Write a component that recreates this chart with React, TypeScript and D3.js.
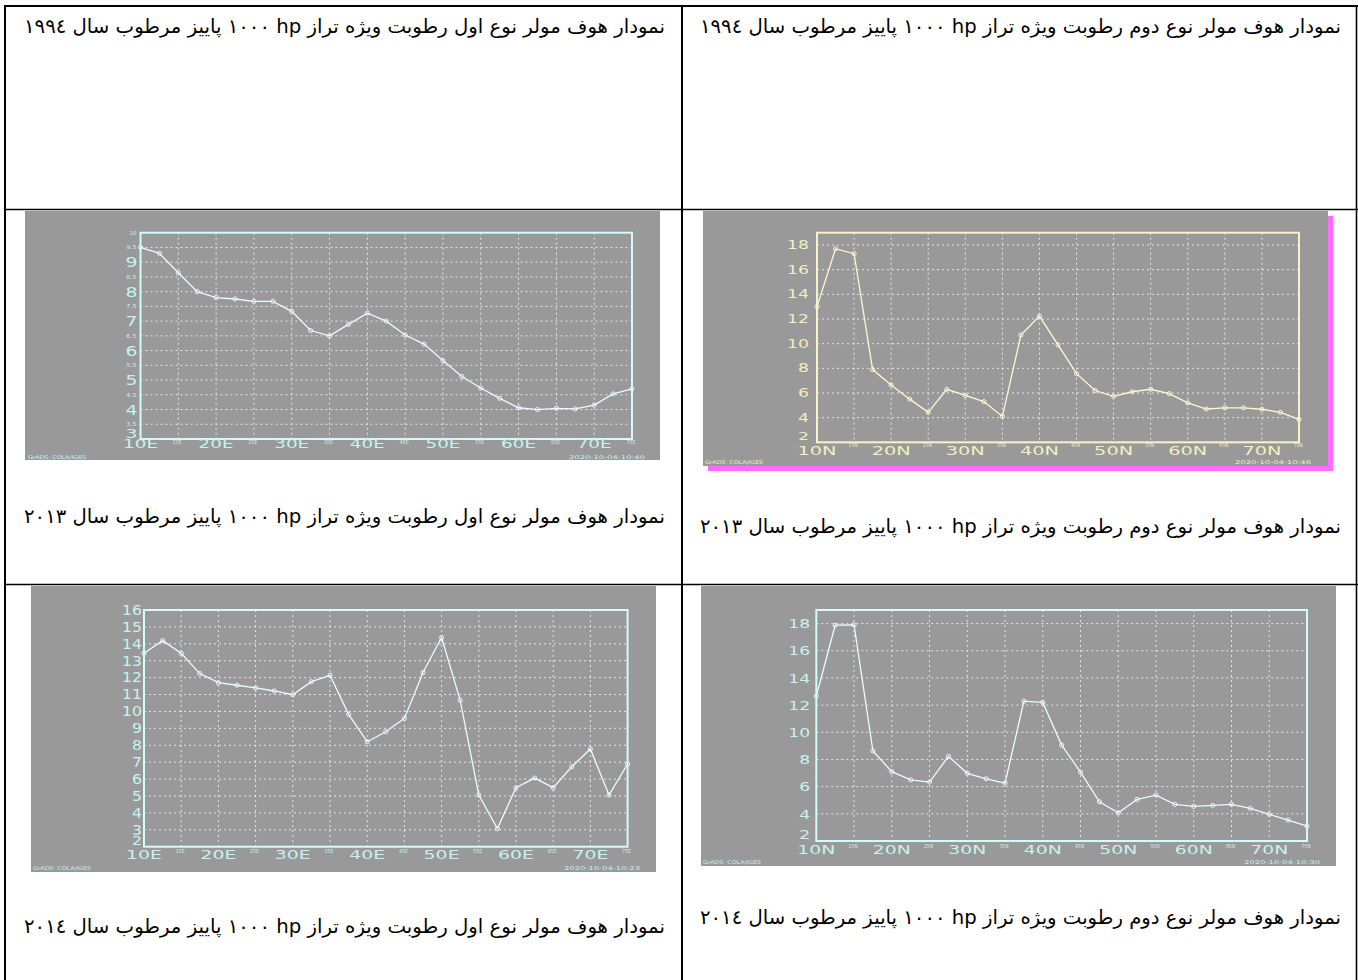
import React from 'react';
import * as d3 from 'd3';

// Grid positions (degrees) along the Hovmöller section
const GRID_POINTS = [10, 12.5, 15, 17.5, 20, 22.5, 25, 27.5, 30, 32.5, 35, 37.5, 40, 42.5, 45, 47.5, 50, 52.5, 55, 57.5, 60, 62.5, 65, 67.5, 70, 72.5, 75];
const X_TICKS = [10, 15, 20, 25, 30, 35, 40, 45, 50, 55, 60, 65, 70, 75];

// Specific humidity values (g/kg)
const TYPE1_2013 = [9.5, 9.3, 8.64, 8.0, 7.8, 7.75, 7.67, 7.67, 7.33, 6.68, 6.5, 6.89, 7.27, 7.0, 6.53, 6.22, 5.66, 5.12, 4.73, 4.38, 4.06, 4.0, 4.04, 4.02, 4.15, 4.53, 4.7];
const TYPE2_2013 = [13.0, 17.7, 17.3, 7.9, 6.65, 5.5, 4.43, 6.3, 5.8, 5.3, 4.1, 10.7, 12.24, 9.9, 7.57, 6.2, 5.73, 6.1, 6.3, 5.95, 5.2, 4.7, 4.8, 4.8, 4.68, 4.43, 3.86];
const TYPE1_2014 = [13.44, 14.19, 13.44, 12.24, 11.7, 11.55, 11.39, 11.21, 10.99, 11.76, 12.14, 9.83, 8.21, 8.8, 9.59, 12.3, 14.37, 10.66, 5.06, 3.07, 5.49, 6.06, 5.49, 6.73, 7.78, 5.06, 6.89];
const TYPE2_2014 = [12.66, 17.88, 17.9, 8.62, 7.1, 6.5, 6.34, 8.23, 6.98, 6.58, 6.26, 12.29, 12.2, 9.06, 7.07, 4.89, 4.08, 5.06, 5.38, 4.7, 4.55, 4.62, 4.7, 4.4, 3.96, 3.54, 3.1];

// Y tick labels
const Y_TICKS_TYPE1_2013 = [3, 3.5, 4, 4.5, 5, 5.5, 6, 6.5, 7, 7.5, 8, 8.5, 9, 9.5, 10];
const Y_TICKS_TYPE2_2013 = [2, 4, 6, 8, 10, 12, 14, 16, 18];
const Y_TICKS_TYPE1_2014 = [2, 3, 4, 5, 6, 7, 8, 9, 10, 11, 12, 13, 14, 15, 16];
const Y_TICKS_TYPE2_2014 = [2, 4, 6, 8, 10, 12, 14, 16, 18];

const STAMPS = ['2020-10-04-10:40', '2020-10-04-10:46', '2020-10-04-10:23', '2020-10-04-10:30'];
const CREDIT = 'GrADS: COLA/IGES';

const CAPTIONS = [
  'نمودار هوف مولر نوع اول رطوبت ویژه تراز hp ١٠٠٠ پاییز مرطوب سال ١٩٩٤',
  'نمودار هوف مولر نوع دوم رطوبت ویژه تراز hp ١٠٠٠ پاییز مرطوب سال ١٩٩٤',
  'نمودار هوف مولر نوع اول رطوبت ویژه تراز hp ١٠٠٠ پاییز مرطوب سال ٢٠١٣',
  'نمودار هوف مولر نوع دوم رطوبت ویژه تراز hp ١٠٠٠ پاییز مرطوب سال ٢٠١٣',
  'نمودار هوف مولر نوع اول رطوبت ویژه تراز hp ١٠٠٠ پاییز مرطوب سال ٢٠١٤',
  'نمودار هوف مولر نوع دوم رطوبت ویژه تراز hp ١٠٠٠ پاییز مرطوب سال ٢٠١٤',
];

const GFONT = "'DejaVu Sans', sans-serif";

type Cfg = {
  box: { x: number; y: number; w: number; h: number };
  shadow?: boolean;
  plot: { l: number; r: number; t: number; b: number };
  yDomain: [number, number];
  yTicks: number[];
  values: number[];
  suffix: string;
  frame: string;
  text: string;
  lineColor: string;
  stamp: string;
  yl: { big: number; digitW: number; gap: number; bottomLift: number; isBig: (v: number) => boolean };
  xl: { bigW: number; bigSize: number; bigBase: number; smallBase: number };
  footY: number;
  creditX: number;
  stampR: number;
};

function Chart({ cfg }: { cfg: Cfg }) {
  const { box, plot, yDomain, yTicks, values, suffix, frame, text, lineColor, stamp, yl, xl } = cfg;
  const x = d3.scaleLinear().domain([10, 75]).range([plot.l, plot.r]);
  const y = d3.scaleLinear().domain(yDomain).range([plot.b, plot.t]);
  const line = d3
    .line<number>()
    .x((_, i) => x(GRID_POINTS[i]))
    .y((d) => y(d));
  const grid = '#efefef';
  return (
    <g>
      {cfg.shadow && <rect x={box.x + 5} y={box.y + 5} width={box.w} height={box.h} fill="#ff6cff" />}
      <rect x={box.x} y={box.y} width={box.w} height={box.h} fill="#999999" />
      {/* grid */}
      {yTicks
        .filter((v) => v > yDomain[0] && v < yDomain[1])
        .map((v) => (
          <line key={'gy' + v} x1={plot.l} x2={plot.r} y1={y(v)} y2={y(v)} stroke={grid} strokeWidth={1} strokeDasharray="2,3" opacity={0.9} />
        ))}
      {X_TICKS.filter((v) => v > 10 && v < 75).map((v) => (
        <line key={'gx' + v} x1={x(v)} x2={x(v)} y1={plot.t} y2={plot.b} stroke={grid} strokeWidth={1} strokeDasharray="2,3" opacity={0.9} />
      ))}
      {/* data */}
      <path d={line(values) || ''} fill="none" stroke={lineColor} strokeWidth={1.3} />
      {values.map((v, i) => (
        <circle key={'m' + i} cx={x(GRID_POINTS[i])} cy={y(v)} r={2.1} fill="none" stroke={lineColor} strokeWidth={0.9} />
      ))}
      {/* frame */}
      <rect x={plot.l} y={plot.t} width={plot.r - plot.l} height={plot.b - plot.t} fill="none" stroke={frame} strokeWidth={2} />
      {/* y labels */}
      {yTicks.map((v, i) => {
        const big = yl.isBig(v);
        const label = String(v);
        const first = i === 0;
        if (big) {
          return (
            <text
              key={'yl' + v}
              x={plot.l - yl.gap}
              y={first ? plot.b - yl.bottomLift : y(v) + yl.big * 0.36}
              textAnchor="end"
              fontFamily={GFONT}
              fontSize={first ? yl.big * 0.92 : yl.big}
              fill={text}
              textLength={label.length * yl.digitW}
              lengthAdjust="spacingAndGlyphs"
            >
              {label}
            </text>
          );
        }
        return (
          <text key={'yl' + v} x={plot.l - yl.gap - 1} y={y(v) + 2} textAnchor="end" fontFamily={GFONT} fontSize={5.5} fill={text} textLength={label.length * 3.4} lengthAdjust="spacingAndGlyphs">
            {label}
          </text>
        );
      })}
      {/* x labels */}
      {X_TICKS.map((v) => {
        const label = v + suffix;
        if (v % 10 === 0) {
          return (
            <text key={'xl' + v} x={x(v)} y={plot.b + xl.bigBase} textAnchor="middle" fontFamily={GFONT} fontSize={xl.bigSize} fill={text} textLength={xl.bigW} lengthAdjust="spacingAndGlyphs">
              {label}
            </text>
          );
        }
        return (
          <text key={'xl' + v} x={x(v) - 1} y={plot.b + xl.smallBase} textAnchor="middle" fontFamily={GFONT} fontSize={5.5} fill={text} textLength={9} lengthAdjust="spacingAndGlyphs">
            {label}
          </text>
        );
      })}
      {/* footer */}
      <text x={cfg.creditX} y={cfg.footY} fontFamily={GFONT} fontSize={5} fill={text} textLength={58} lengthAdjust="spacingAndGlyphs">
        {CREDIT}
      </text>
      <text x={cfg.stampR} y={cfg.footY} textAnchor="end" fontFamily={GFONT} fontSize={5} fill={text} textLength={76} lengthAdjust="spacingAndGlyphs">
        {stamp}
      </text>
    </g>
  );
}

const CYAN_TEXT = '#c6f2f2';
const CYAN_FRAME = '#d4fafa';
const CYAN_LINE = '#eafcfc';
const YEL_TEXT = '#f0f0c0';
const YEL_FRAME = '#f4f4c8';
const YEL_LINE = '#fafad2';

export default function App() {
  const charts: Cfg[] = [
    {
      box: { x: 25, y: 211, w: 635, h: 249 },
      plot: { l: 140.5, r: 632, t: 232.7, b: 439 },
      yDomain: [3, 10],
      yTicks: Y_TICKS_TYPE1_2013,
      values: TYPE1_2013,
      suffix: 'E',
      frame: CYAN_FRAME,
      text: CYAN_TEXT,
      lineColor: CYAN_LINE,
      stamp: STAMPS[0],
      yl: { big: 14, digitW: 12, gap: 3, bottomLift: 1.5, isBig: (v) => Number.isInteger(v) && v < 10 },
      xl: { bigW: 35, bigSize: 12, bigBase: 9, smallBase: 4.5 },
      footY: 459,
      creditX: 28,
      stampR: 645,
    },
    {
      box: { x: 703, y: 211, w: 625, h: 255 },
      shadow: true,
      plot: { l: 817, r: 1299, t: 232.7, b: 442.3 },
      yDomain: [2, 19],
      yTicks: Y_TICKS_TYPE2_2013,
      values: TYPE2_2013,
      suffix: 'N',
      frame: YEL_FRAME,
      text: YEL_TEXT,
      lineColor: YEL_LINE,
      stamp: STAMPS[1],
      yl: { big: 11.5, digitW: 11, gap: 8, bottomLift: 2, isBig: () => true },
      xl: { bigW: 39, bigSize: 12.5, bigBase: 13, smallBase: 5 },
      footY: 464,
      creditX: 705,
      stampR: 1311,
    },
    {
      box: { x: 31, y: 586, w: 625, h: 286 },
      plot: { l: 144, r: 627.6, t: 610, b: 846.7 },
      yDomain: [2, 16],
      yTicks: Y_TICKS_TYPE1_2014,
      values: TYPE1_2014,
      suffix: 'E',
      frame: CYAN_FRAME,
      text: CYAN_TEXT,
      lineColor: CYAN_LINE,
      stamp: STAMPS[2],
      yl: { big: 13.5, digitW: 10, gap: 2, bottomLift: 1.5, isBig: () => true },
      xl: { bigW: 36, bigSize: 12.5, bigBase: 12.5, smallBase: 6 },
      footY: 870,
      creditX: 33,
      stampR: 640,
    },
    {
      box: { x: 701, y: 586, w: 635, h: 280 },
      plot: { l: 816.3, r: 1307, t: 610, b: 841 },
      yDomain: [2, 19],
      yTicks: Y_TICKS_TYPE2_2014,
      values: TYPE2_2014,
      suffix: 'N',
      frame: CYAN_FRAME,
      text: CYAN_TEXT,
      lineColor: CYAN_LINE,
      stamp: STAMPS[3],
      yl: { big: 13, digitW: 11, gap: 6, bottomLift: 2, isBig: () => true },
      xl: { bigW: 38, bigSize: 12.5, bigBase: 13, smallBase: 7 },
      footY: 864,
      creditX: 703,
      stampR: 1320,
    },
  ];

  const captionPos = [
    { r: 665, y: 33 },
    { r: 1341, y: 33 },
    { r: 665, y: 523 },
    { r: 1341, y: 533 },
    { r: 665, y: 933 },
    { r: 1341, y: 924 },
  ];

  return (
    <svg width={1358} height={980} style={{ position: 'absolute', left: 0, top: 0, background: '#fff' }}>
      {/* table lines */}
      <line x1={4} x2={1358} y1={6} y2={6} stroke="#000" strokeWidth={2} />
      <line x1={5} x2={5} y1={5} y2={980} stroke="#000" strokeWidth={2} />
      <line x1={682} x2={682} y1={5} y2={980} stroke="#000" strokeWidth={2} />
      <line x1={1356.5} x2={1356.5} y1={5} y2={980} stroke="#000" strokeWidth={1.6} />
      <line x1={4} x2={1358} y1={209.5} y2={209.5} stroke="#000" strokeWidth={1.7} />
      <line x1={4} x2={1358} y1={584.5} y2={584.5} stroke="#000" strokeWidth={1.7} />
      {charts.map((c, i) => (
        <Chart key={i} cfg={c} />
      ))}
      {CAPTIONS.map((t, i) => (
        <text
          key={'cap' + i}
          x={captionPos[i].r}
          y={captionPos[i].y}
          direction="rtl"
          textAnchor="start"
          fontFamily="'DejaVu Sans', sans-serif"
          fontSize={19.5}
          fill="#000"
          textLength={641}
          lengthAdjust="spacingAndGlyphs"
        >
          {t}
        </text>
      ))}
    </svg>
  );
}
